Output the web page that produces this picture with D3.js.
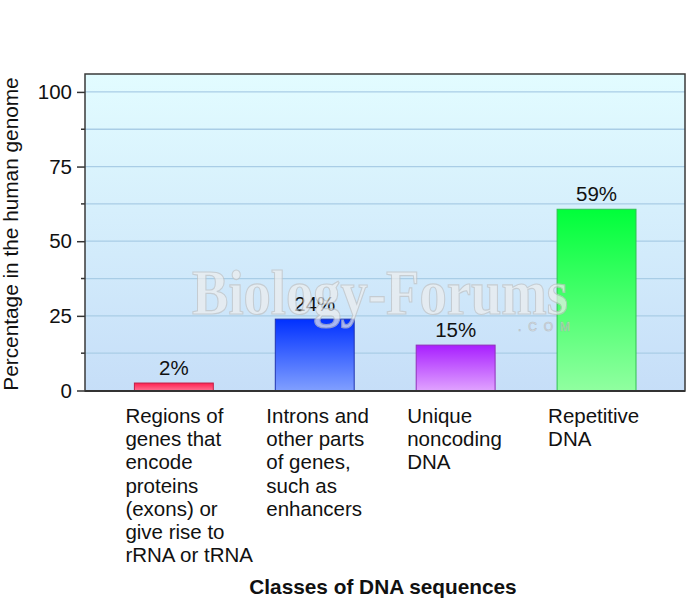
<!DOCTYPE html>
<html>
<head>
<meta charset="utf-8">
<script src="https://cdn.jsdelivr.net/npm/d3@7"></script>
<style>
  body { margin: 0; background: #fff; }
  svg { display: block; font-family: "Liberation Sans", Arial, sans-serif; }
</style>
</head>
<body>
<div id="chart"></div>
<script>
// data
const categories = ['exons', 'introns', 'unique', 'repetitive']
const categoryLines = [
  ['Regions of', 'genes that', 'encode', 'proteins', '(exons) or', 'give rise to', 'rRNA or tRNA'],
  ['Introns and', 'other parts', 'of genes,', 'such as', 'enhancers'],
  ['Unique', 'noncoding', 'DNA'],
  ['Repetitive', 'DNA']
]
const barHeights = [2.5, 23.9, 15.2, 60.7]   // as drawn
const percentLabels = ['2%', '24%', '15%', '59%']
const yTicks = [0, 25, 50, 75, 100]
const yMinorTicks = [12.5, 37.5, 62.5, 87.5]
const barColors = [
  ['#ff1f4f', '#ff6f90'],
  ['#0030ff', '#809fff'],
  ['#a81fff', '#e0a2ff'],
  ['#00ff3a', '#90ffa0']
]
const barStrokes = ['#c02048', '#2035b0', '#9030b8', '#30c050']

const width = 686
const height = 600
const frame = { left: 85, right: 685, top: 74, bottom: 391 }
const fontSize = 20.5

const svg = d3.select('#chart').append('svg')
  .attr('width', width)
  .attr('height', height)

const defs = svg.append('defs')
const bg = defs.append('linearGradient').attr('id', 'bg')
  .attr('x1', 0).attr('y1', 0).attr('x2', 0).attr('y2', 1)
bg.append('stop').attr('offset', '0%').attr('stop-color', '#e2fcff')
bg.append('stop').attr('offset', '100%').attr('stop-color', '#c6def8')

barColors.forEach((c, i) => {
  const g = defs.append('linearGradient').attr('id', 'bar' + i)
    .attr('x1', 0).attr('y1', 0).attr('x2', 0).attr('y2', 1)
  g.append('stop').attr('offset', '0%').attr('stop-color', c[0])
  g.append('stop').attr('offset', '100%').attr('stop-color', c[1])
})

const y = d3.scaleLinear()
  .domain([0, 106])
  .range([390.5, frame.top])

const x = d3.scaleBand()
  .domain(categories)
  .range([103.4, 667])
  .paddingInner(0.44)
  .paddingOuter(0.22)

// plot background
svg.append('rect')
  .attr('x', frame.left)
  .attr('y', frame.top)
  .attr('width', frame.right - frame.left)
  .attr('height', frame.bottom - frame.top)
  .attr('fill', 'url(#bg)')

// grid lines every 12.5
svg.append('g')
  .selectAll('line')
  .data(yTicks.concat(yMinorTicks).filter(d => d > 0))
  .join('line')
  .attr('x1', frame.left)
  .attr('x2', frame.right)
  .attr('y1', d => y(d))
  .attr('y2', d => y(d))
  .attr('stroke', '#a9cde6')
  .attr('stroke-width', 1.3)

// bars
svg.append('g')
  .selectAll('rect')
  .data(categories)
  .join('rect')
  .attr('x', d => x(d))
  .attr('y', (d, i) => y(barHeights[i]))
  .attr('width', x.bandwidth())
  .attr('height', (d, i) => y(0) - y(barHeights[i]))
  .attr('fill', (d, i) => `url(#bar${i})`)
  .attr('stroke', (d, i) => barStrokes[i])
  .attr('stroke-width', 1)

// value labels
svg.append('g')
  .selectAll('text')
  .data(categories)
  .join('text')
  .attr('x', d => x(d) + x.bandwidth() / 2)
  .attr('y', (d, i) => y(barHeights[i]) - 8)
  .attr('text-anchor', 'middle')
  .attr('font-size', fontSize)
  .attr('fill', '#111')
  .text((d, i) => percentLabels[i])

// watermark
const wm = svg.append('g').attr('opacity', 0.7)
wm.append('text')
  .attr('x', 192)
  .attr('y', 314)
  .attr('font-family', '"Liberation Serif", "DejaVu Serif", serif')
  .attr('font-size', 64)
  .attr('font-weight', 'bold')
  .attr('textLength', 376)
  .attr('lengthAdjust', 'spacingAndGlyphs')
  .attr('fill', '#eeeeee')
  .attr('stroke', '#c2c2c2')
  .attr('stroke-width', 1.2)
  .text('Biology-Forums')
wm.append('text')
  .attr('x', 518)
  .attr('y', 331)
  .attr('font-size', 12)
  .attr('textLength', 52)
  .attr('fill', '#f0f0f0')
  .attr('stroke', '#a8a8a8')
  .attr('stroke-width', 0.6)
  .text('.COM')

// y axis
const yAxis = svg.append('g')
  .attr('transform', `translate(${frame.left},0)`)
  .call(d3.axisLeft(y).tickValues(yTicks).tickSize(8).tickPadding(5))
yAxis.select('.domain').remove()
yAxis.selectAll('line').attr('stroke', '#333').attr('stroke-width', 1.5)
yAxis.selectAll('text')
  .attr('font-size', fontSize)
  .attr('fill', '#111')
  .attr('font-family', '"Liberation Sans", Arial, sans-serif')

svg.append('g')
  .selectAll('line')
  .data(yMinorTicks)
  .join('line')
  .attr('x1', frame.left - 4)
  .attr('x2', frame.left)
  .attr('y1', d => y(d))
  .attr('y2', d => y(d))
  .attr('stroke', '#333')
  .attr('stroke-width', 1.5)

// frame
svg.append('rect')
  .attr('x', frame.left)
  .attr('y', frame.top)
  .attr('width', frame.right - frame.left)
  .attr('height', frame.bottom - frame.top)
  .attr('fill', 'none')
  .attr('stroke', '#3a3a3a')
  .attr('stroke-width', 1.5)
svg.append('line')
  .attr('x1', frame.left)
  .attr('x2', frame.right)
  .attr('y1', frame.bottom)
  .attr('y2', frame.bottom)
  .attr('stroke', '#333')
  .attr('stroke-width', 2)

// y axis title
svg.append('text')
  .attr('transform', `translate(18,234) rotate(-90)`)
  .attr('text-anchor', 'middle')
  .attr('font-size', 20.8)
  .attr('fill', '#111')
  .text('Percentage in the human genome')

// category labels
const catGroup = svg.append('g')
categories.forEach((c, i) => {
  const t = catGroup.append('text')
    .attr('x', x(c) - 9)
    .attr('y', 423)
    .attr('font-size', fontSize)
    .attr('fill', '#111')
  categoryLines[i].forEach((line, j) => {
    t.append('tspan')
      .attr('x', x(c) - 9)
      .attr('dy', j === 0 ? 0 : 23.2)
      .text(line)
  })
})

// x axis title
svg.append('text')
  .attr('x', 383)
  .attr('y', 594)
  .attr('text-anchor', 'middle')
  .attr('font-size', 20.8)
  .attr('font-weight', 'bold')
  .attr('fill', '#111')
  .text('Classes of DNA sequences')
</script>
</body>
</html>
